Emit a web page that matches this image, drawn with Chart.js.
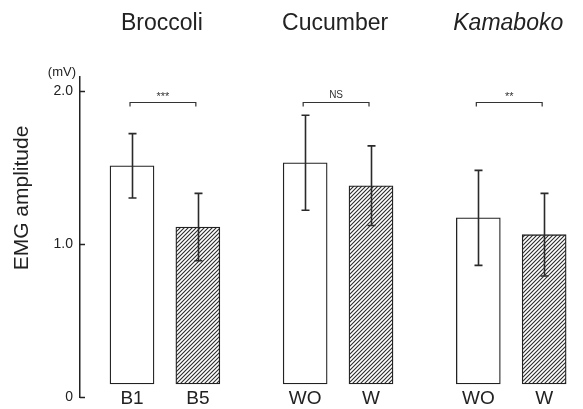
<!DOCTYPE html>
<html><head><meta charset="utf-8">
<script src="https://cdn.jsdelivr.net/npm/chart.js@4/dist/chart.umd.min.js"></script>
<style>html,body{margin:0;padding:0;background:#fff}#wrap{width:583px;height:409px}</style>
</head><body><div id="wrap"><canvas id="c" width="583" height="409"></canvas></div>
<script>
// ---- data ----
const groups = ['Broccoli', 'Cucumber', 'Kamaboko'];
const groupItalic = [false, false, true];
const categories = ['B1', 'B5', 'WO', 'W', 'WO', 'W'];
const meanValues = [1.51, 1.11, 1.53, 1.38, 1.17, 1.06];
const sdValues = [0.21, 0.22, 0.31, 0.26, 0.31, 0.27];
const significance = ['***', 'NS', '**'];
const yTicks = [0, 1, 2];
const yTickLabels = ['0', '1.0', '2.0'];
const yUnit = '(mV)';
const yTitle = 'EMG amplitude';

// ---- layout helpers ----
const GROUP_STEP = 2.63;
const xPos = i => Math.floor(i / 2) * GROUP_STEP + (i % 2);
const FONT = '"Liberation Sans", Arial, Helvetica, sans-serif';
const INK = '#222';

function hatch() {
  const c = document.createElement('canvas');
  c.width = 4; c.height = 4;
  const g = c.getContext('2d');
  g.fillStyle = '#fff'; g.fillRect(0, 0, 4, 4);
  g.strokeStyle = '#2a2a2a'; g.lineWidth = 1.1;
  g.beginPath();
  g.moveTo(-1, 5); g.lineTo(5, -1);
  g.moveTo(-1, 1); g.lineTo(1, -1);
  g.moveTo(3, 5); g.lineTo(5, 3);
  g.stroke();
  return g.createPattern(c, 'repeat');
}
const pattern = hatch();

const overlay = {
  id: 'overlay',
  afterDatasetsDraw(chart) {
    const ctx = chart.ctx, xs = chart.scales.x, ys = chart.scales.y, ca = chart.chartArea;
    ctx.save();
    // y tick marks (inward)
    ctx.strokeStyle = INK; ctx.lineWidth = 1.5;
    yTicks.forEach(v => {
      const y = Math.round(ys.getPixelForValue(v)) + 0.5;
      ctx.beginPath(); ctx.moveTo(ca.left, y); ctx.lineTo(ca.left + 5, y); ctx.stroke();
    });
    // error bars
    ctx.lineWidth = 1.6; ctx.strokeStyle = '#2a2a2a';
    meanValues.forEach((m, i) => {
      const x = Math.round(xs.getPixelForValue(xPos(i))) + 0.5;
      const yt = ys.getPixelForValue(m + sdValues[i]);
      const yb = ys.getPixelForValue(m - sdValues[i]);
      ctx.beginPath();
      ctx.moveTo(x, yt); ctx.lineTo(x, yb);
      ctx.moveTo(x - 4, yt); ctx.lineTo(x + 4, yt);
      ctx.moveTo(x - 4, yb); ctx.lineTo(x + 4, yb);
      ctx.stroke();
    });
    // significance brackets
    significance.forEach((s, g) => {
      const x1 = xs.getPixelForValue(xPos(g * 2)) - 2;
      const x2 = xs.getPixelForValue(xPos(g * 2 + 1)) - 2;
      const y = Math.round(ys.getPixelForValue(1.925)) + 0.5;
      ctx.lineWidth = 1.2; ctx.strokeStyle = '#333';
      ctx.beginPath();
      ctx.moveTo(x1, y + 4); ctx.lineTo(x1, y); ctx.lineTo(x2, y); ctx.lineTo(x2, y + 4);
      ctx.stroke();
      ctx.fillStyle = '#333';
      ctx.font = (s === 'NS' ? '10px ' : '11px ') + FONT;
      ctx.textAlign = 'center'; ctx.textBaseline = 'middle';
      ctx.fillText(s, (x1 + x2) / 2, s === 'NS' ? y - 7 : y - 6);
    });
    // x labels
    ctx.fillStyle = INK;
    ctx.font = '19px ' + FONT;
    ctx.textAlign = 'center'; ctx.textBaseline = 'middle';
    categories.forEach((c, i) => {
      ctx.fillText(c, xs.getPixelForValue(xPos(i)), 399);
    });
    // group titles
    groups.forEach((t, g) => {
      ctx.font = (groupItalic[g] ? 'italic ' : '') + '23px ' + FONT;
      const cx = (xs.getPixelForValue(xPos(g * 2)) + xs.getPixelForValue(xPos(g * 2 + 1))) / 2;
      ctx.fillText(t, cx - 3, 24);
    });
    // unit label
    ctx.font = '13px ' + FONT;
    ctx.textAlign = 'right';
    ctx.fillText(yUnit, ca.left - 4, 72);
    // y title
    ctx.translate(22, 198);
    ctx.rotate(-Math.PI / 2);
    ctx.font = '21px ' + FONT;
    ctx.textAlign = 'center';
    ctx.fillText(yTitle, 0, 0);
    ctx.restore();
  }
};

new Chart(document.getElementById('c'), {
  type: 'bar',
  data: {
    datasets: [{
      data: meanValues.map((v, i) => ({ x: xPos(i), y: v })),
      backgroundColor: meanValues.map((v, i) => i % 2 ? pattern : '#fff'),
      borderColor: INK,
      borderWidth: 1.3,
      borderSkipped: false,
      barThickness: 44,
      base: 0.085
    }]
  },
  options: {
    responsive: false,
    devicePixelRatio: 1,
    animation: false,
    layout: { padding: { top: 77, bottom: 12, left: 0, right: 0 } },
    plugins: { legend: { display: false }, tooltip: { enabled: false } },
    scales: {
      x: {
        type: 'linear', display: false, offset: false,
        min: -0.79, max: 6.85
      },
      y: {
        min: 0, max: 2.09,
        afterFit: s => { s.width = 80; s.paddingTop = 0; s.paddingBottom = 0; },
        afterBuildTicks: s => { s.ticks = yTicks.map(v => ({ value: v })); },
        grid: { display: true, drawOnChartArea: false, drawTicks: false },
        border: { display: true, color: INK, width: 1.5 },
        ticks: {
          padding: 7,
          color: INK,
          font: { family: FONT, size: 14 },
          callback: (v) => yTickLabels[yTicks.indexOf(v)]
        }
      }
    }
  },
  plugins: [overlay]
});
</script>
</body></html>
